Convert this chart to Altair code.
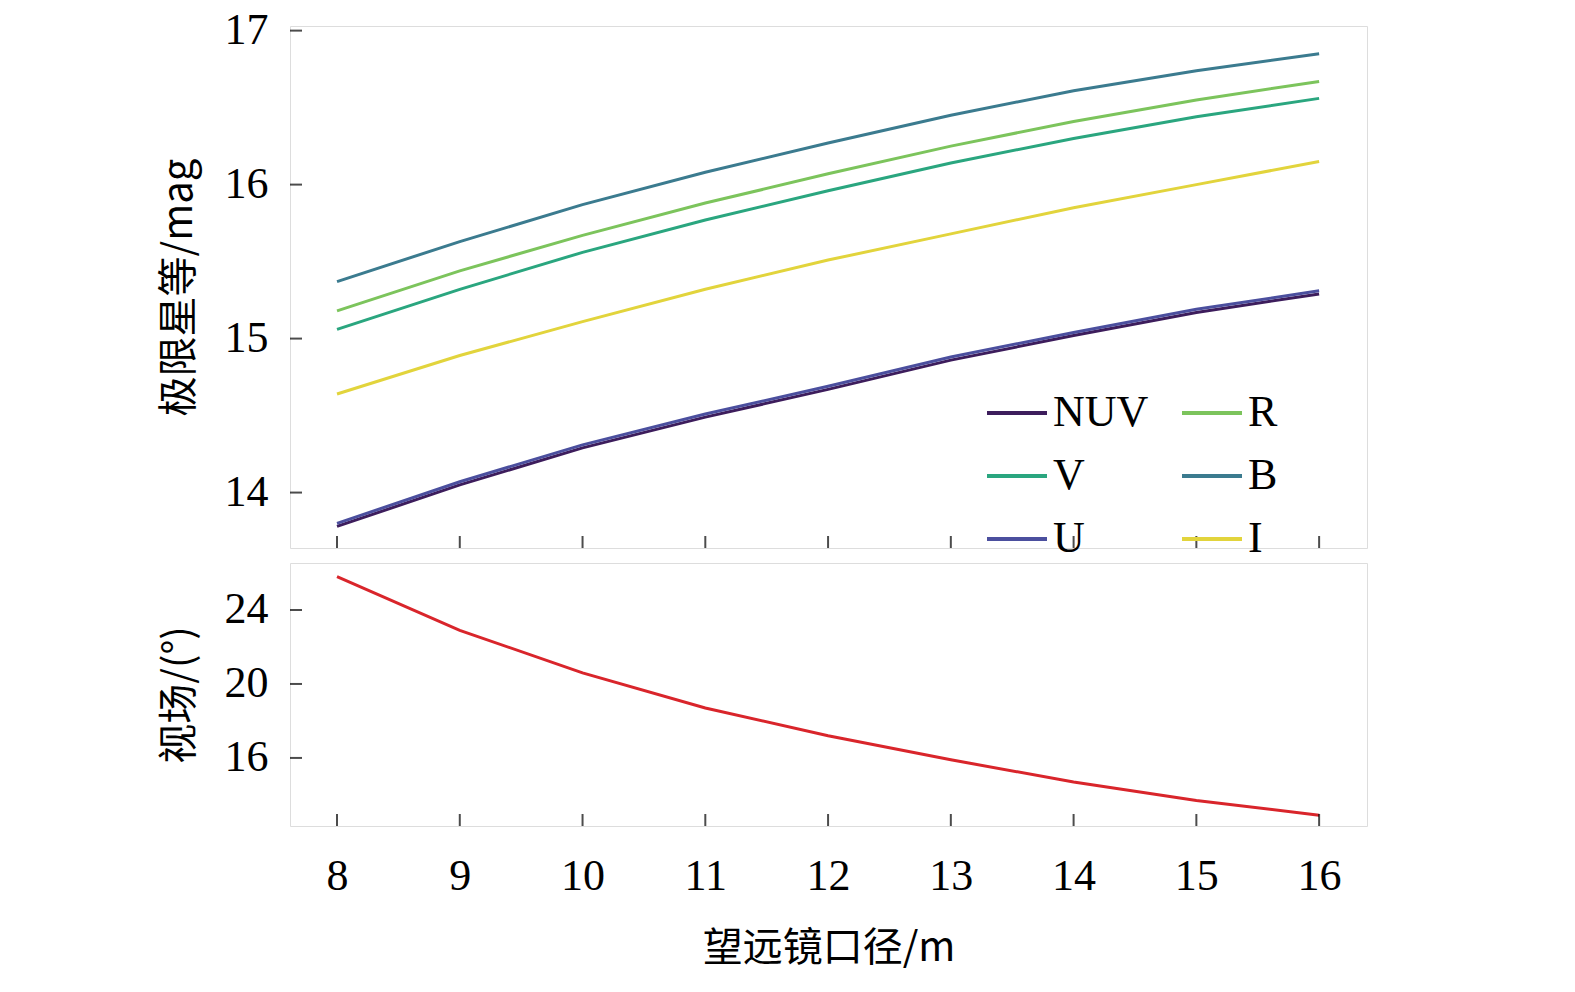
import altair as alt
import pandas as pd

D = [8, 9, 10, 11, 12, 13, 14, 15, 16]
NUV = [13.78, 14.05, 14.29, 14.49, 14.67, 14.86, 15.02, 15.17, 15.29]
U = [13.80, 14.07, 14.31, 14.51, 14.69, 14.88, 15.04, 15.19, 15.31]
B = [15.37, 15.63, 15.87, 16.08, 16.27, 16.45, 16.61, 16.74, 16.85]
V = [15.06, 15.32, 15.56, 15.77, 15.96, 16.14, 16.30, 16.44, 16.56]
R = [15.18, 15.44, 15.67, 15.88, 16.07, 16.25, 16.41, 16.55, 16.67]
I = [14.64, 14.89, 15.11, 15.32, 15.51, 15.68, 15.85, 16.00, 16.15]
FOV = [25.8, 22.9, 20.6, 18.7, 17.2, 15.9, 14.7, 13.7, 12.9]
XT = [8, 9, 10, 11, 12, 13, 14, 15, 16]
YT1 = [14, 15, 16, 17]
YT2 = [16, 20, 24]

bands = {"NUV": NUV, "U": U, "B": B, "V": V, "R": R, "I": I}
rows = []
for k, vals in bands.items():
    for d, v in zip(D, vals):
        rows.append({"d": d, "m": v, "band": k})
df = pd.DataFrame(rows)
dfov = pd.DataFrame({"d": D, "f": FOV})
xt = pd.DataFrame({"x": XT})
yt1 = pd.DataFrame({"y": YT1})
yt2 = pd.DataFrame({"y": YT2})

W, H1, H2 = 1077, 522, 263
xs = alt.Scale(domain=[7.617, 16.39], nice=False, zero=False)
s1 = alt.Scale(domain=[13.64, 17.03], nice=False, zero=False)
s2 = alt.Scale(domain=[12.32, 26.54], nice=False, zero=False)
serif = "Liberation Serif"
cjk = "Noto Sans CJK SC"

order = ["NUV", "V", "U", "R", "B", "I"]
cols = ["#3d1d5c", "#2aa67f", "#4b4f9e", "#7cc45c", "#3b7b8f", "#e2d43c"]

def yaxis(vals, title_pad):
    return alt.Axis(values=vals, format="d", ticks=False, domain=False, labelFont=serif,
                    labelFontSize=44, labelColor="black", labelPadding=22,
                    titleFont=cjk, titleFontSize=40, titleFontWeight="normal",
                    titleColor="black", titlePadding=title_pad, grid=False)

lines = alt.Chart(df).mark_line(strokeWidth=3).encode(
    x=alt.X("d:Q", scale=xs, axis=None),
    y=alt.Y("m:Q", scale=s1, title="极限星等/mag", axis=yaxis(YT1, 25)),
    color=alt.Color("band:N", scale=alt.Scale(domain=order, range=cols),
                    sort=order,
                    legend=alt.Legend(title=None, orient="none", legendX=695, legendY=355,
                                      columns=2, symbolType="stroke", symbolSize=3600,
                                      symbolStrokeWidth=4, labelFont=serif,
                                      labelFontSize=44, labelColor="black",
                                      rowPadding=9, columnPadding=25, labelLimit=300)),
)
xt1 = alt.Chart(xt).mark_tick(color="black", thickness=2, size=12).encode(
    x=alt.X("x:Q", scale=xs), y=alt.value(H1 - 6))
yt1m = alt.Chart(yt1).mark_tick(color="black", thickness=2, size=12).encode(
    y=alt.Y("y:Q", scale=s1), x=alt.value(6))
top = alt.layer(lines, xt1, yt1m).properties(width=W, height=H1)

fl = alt.Chart(dfov).mark_line(strokeWidth=3, color="#d9252b").encode(
    x=alt.X("d:Q", scale=xs, title="望远镜口径/m",
            axis=alt.Axis(values=XT, format="d", ticks=False, domain=False, labelFont=serif,
                          labelFontSize=44, labelColor="black", labelPadding=28,
                          titleFont=cjk, titleFontSize=40, titleFontWeight="normal",
                          titleColor="black", titlePadding=30, grid=False)),
    y=alt.Y("f:Q", scale=s2, title="视场/(°)", axis=yaxis(YT2, 25)),
)
xt2 = alt.Chart(xt).mark_tick(color="black", thickness=2, size=12).encode(
    x=alt.X("x:Q", scale=xs), y=alt.value(H2 - 6))
yt2m = alt.Chart(yt2).mark_tick(color="black", thickness=2, size=12).encode(
    y=alt.Y("y:Q", scale=s2), x=alt.value(6))
bot = alt.layer(fl, xt2, yt2m).properties(width=W, height=H2)

chart = alt.vconcat(top, bot, spacing=0).resolve_scale(color="independent").properties(
    padding={"left": 150, "top": 0, "right": 10, "bottom": 5},
).configure_view(stroke="black", strokeWidth=2).configure(background="white")

chart.save("out.html", embed_options={"renderer": "svg", "actions": False})
